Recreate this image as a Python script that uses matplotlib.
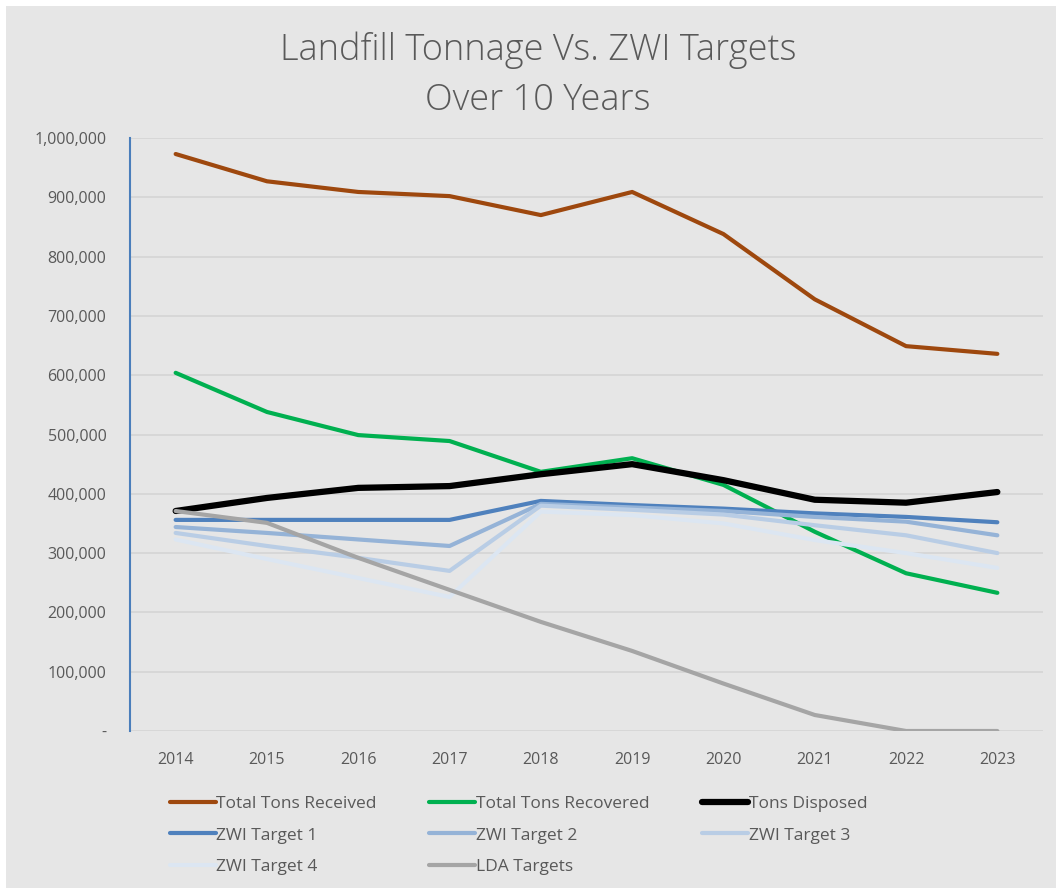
import matplotlib.pyplot as plt
from matplotlib.ticker import FuncFormatter
from matplotlib.patches import Rectangle

years = ["2014", "2015", "2016", "2017", "2018", "2019", "2020", "2021", "2022", "2023"]

total_received = [973000, 927000, 909000, 902000, 870000, 909000, 838000, 728000, 649000, 636000]
total_recovered = [604000, 538000, 499000, 489000, 437000, 460000, 415000, 336000, 266000, 233000]
tons_disposed = [371000, 393000, 410000, 413000, 433000, 450000, 423000, 390000, 385000, 403000]
zwi_target_1 = [356000, 356000, 356000, 356000, 388000, 381000, 375000, 367000, 361000, 352000]
zwi_target_2 = [344000, 334000, 323000, 312000, 383000, 377000, 371000, 361000, 353000, 330000]
zwi_target_3 = [334000, 312000, 292000, 270000, 380000, 373000, 365000, 347000, 330000, 300000]
zwi_target_4 = [323000, 290000, 258000, 226000, 370000, 364000, 350000, 322000, 300000, 275000]
lda_targets = [371000, 351000, 292000, 238000, 184000, 135000, 80000, 27000, 0, 0]

series = [
    ("Total Tons Received", total_received, "#9e480e", 3.0),
    ("Total Tons Recovered", total_recovered, "#00b050", 3.0),
    ("Tons Disposed", tons_disposed, "#000000", 4.5),
    ("ZWI Target 1", zwi_target_1, "#4f81bd", 3.0),
    ("ZWI Target 2", zwi_target_2, "#95b3d7", 3.0),
    ("ZWI Target 3", zwi_target_3, "#b9cde5", 3.0),
    ("ZWI Target 4", zwi_target_4, "#dce6f2", 3.0),
    ("LDA Targets", lda_targets, "#a5a5a5", 3.0),
]

plt.rcParams['font.family'] = ['Open Sans', 'DejaVu Sans']
bg = "#e6e6e6"
text_grey = "#595959"

fig = plt.figure(figsize=(10.56, 8.88), dpi=100, facecolor=bg)
# white margin strips along the top and left edge
fig.patches.append(Rectangle((0, 1 - 6 / 888), 1, 6 / 888, transform=fig.transFigure,
                             facecolor="white", edgecolor="none", zorder=0))
fig.patches.append(Rectangle((0, 0), 6 / 1056, 1, transform=fig.transFigure,
                             facecolor="white", edgecolor="none", zorder=0))

ax = fig.add_axes([130 / 1056, 1 - 731 / 888, (1043 - 130) / 1056, (731 - 138) / 888])
ax.set_facecolor(bg)

x = list(range(len(years)))
lines = []
for name, vals, color, lw in series:
    ln, = ax.plot(x, vals, color=color, lw=lw, label=name,
                  solid_capstyle="round", solid_joinstyle="round")
    lines.append(ln)

ax.set_xlim(-0.5, len(years) - 0.5)
ax.set_ylim(0, 1000000)
ax.set_yticks(range(0, 1000001, 100000))
ax.yaxis.set_major_formatter(FuncFormatter(lambda v, p: "-" if v == 0 else f"{int(v):,}"))
ax.set_xticks(x)
ax.set_xticklabels(years)
ax.tick_params(axis="both", length=0, labelsize=11.5, colors=text_grey)
ax.tick_params(axis="y", pad=17)
ax.tick_params(axis="x", pad=15)

ax.grid(axis="y", color="#d4d4d4", lw=1.2)
ax.set_axisbelow(True)
for s in ["top", "right", "bottom"]:
    ax.spines[s].set_visible(False)
ax.spines["left"].set_color("#4a7ebb")
ax.spines["left"].set_linewidth(1.5)

fig.text(538 / 1056, 1 - 50 / 888, "Landfill Tonnage Vs. ZWI Targets", ha="center", va="center",
         fontsize=26, color=text_grey, fontweight="light")
fig.text(538 / 1056, 1 - 100 / 888, "Over 10 Years", ha="center", va="center",
         fontsize=26, color=text_grey, fontweight="light")

# legend reads row by row, matplotlib fills column by column
order = [0, 3, 6, 1, 4, 7, 2, 5]
leg = fig.legend([lines[i] for i in order], [series[i][0] for i in order],
                 loc="upper left", bbox_to_anchor=(154 / 1056, 1 - 780 / 888), ncol=3,
                 frameon=False, fontsize=12.5, labelcolor=text_grey, handlelength=2.65,
                 handletextpad=0.05, columnspacing=3.0, labelspacing=0.9)

plt.savefig("out.png", dpi=100, facecolor=bg)
